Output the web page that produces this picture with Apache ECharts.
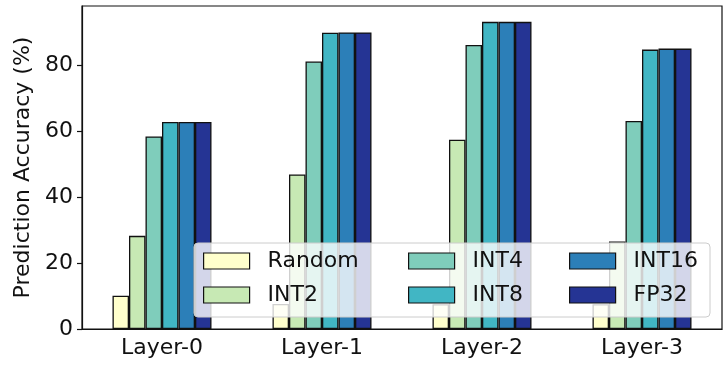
<!DOCTYPE html>
<html>
<head>
<meta charset="utf-8">
<script src="https://cdn.jsdelivr.net/npm/echarts@6/dist/echarts.min.js"></script>
<style>html,body{margin:0;padding:0;background:#fff}#c{width:724px;height:365px}</style>
</head>
<body>
<div id="c"></div>
<script>
const categories = ['Layer-0', 'Layer-1', 'Layer-2', 'Layer-3'];
const seriesNames = ['Random', 'INT2', 'INT4', 'INT8', 'INT16', 'FP32'];
const randomVals = [10.1, 7.6, 7.5, 7.5];
const int2Vals = [28.2, 46.8, 57.3, 26.5];
const int4Vals = [58.3, 81.0, 86.0, 63.0];
const int8Vals = [62.7, 89.7, 93.0, 84.6];
const int16Vals = [62.7, 89.8, 93.0, 84.9];
const fp32Vals = [62.7, 89.8, 93.0, 84.9];
const yTicks = [0, 20, 40, 60, 80];

const colors = ['#ffffcc', '#c7e9b4', '#7fcdbb', '#41b6c4', '#2c7fb8', '#253494'];
const allVals = [randomVals, int2Vals, int4Vals, int8Vals, int16Vals, fp32Vals];
const FONT = 'DejaVu Sans';

const series = seriesNames.map((n, i) => ({
  name: n, type: 'bar', data: allVals[i], barWidth: 16.5, barGap: '0%',
  itemStyle: { color: colors[i], borderColor: '#111', borderWidth: 1.3 },
  z: 2
}));

const legendText = { fontFamily: FONT, fontSize: 22, color: '#111', padding: [0, 0, 0, 13] };
const legendBase = {
  orient: 'vertical', itemWidth: 46, itemHeight: 16, itemGap: 12,
  textStyle: legendText, z: 6, padding: 0,
  itemStyle: { borderColor: '#111', borderWidth: 1.2 },
  icon: 'rect', selectedMode: false
};

const chart = echarts.init(document.getElementById('c'), null, { renderer: 'canvas' });
chart.setOption({
  animation: false,
  color: colors,
  grid: { left: 82, right: 2, top: 6, bottom: 36, show: true, borderColor: '#111', borderWidth: 1.2, backgroundColor: 'transparent' },
  xAxis: {
    type: 'category', data: categories,
    axisLine: { lineStyle: { color: '#111', width: 1.2 } },
    axisTick: { alignWithLabel: true, length: 5, lineStyle: { color: '#111', width: 1.2 } },
    axisLabel: { fontFamily: FONT, fontSize: 22, color: '#111', margin: 8 }
  },
  yAxis: {
    type: 'value', min: 0, max: 97.8, interval: 20,
    name: 'Prediction Accuracy (%)', nameLocation: 'middle', nameGap: 46,
    nameTextStyle: { fontFamily: FONT, fontSize: 22, color: '#111' },
    axisLine: { show: true, lineStyle: { color: '#111', width: 1.2 } },
    axisTick: { show: true, length: 5, lineStyle: { color: '#111', width: 1.2 }, customValues: yTicks },
    axisLabel: { fontFamily: FONT, fontSize: 22, color: '#111', margin: 9, customValues: yTicks },
    splitLine: { show: false }
  },
  legend: [
    Object.assign({}, legendBase, { left: 203, top: 250, data: ['Random', 'INT2'] }),
    Object.assign({}, legendBase, { left: 408, top: 250, data: ['INT4', 'INT8'] }),
    Object.assign({}, legendBase, { left: 569, top: 250, data: ['INT16', 'FP32'] })
  ],
  graphic: [{
    type: 'rect', z: 5,
    shape: { x: 194, y: 243, width: 516, height: 74, r: 4 },
    style: { fill: 'rgba(255,255,255,0.8)', stroke: '#cccccc', lineWidth: 1 }
  }],
  series: series
});
</script>
</body>
</html>
